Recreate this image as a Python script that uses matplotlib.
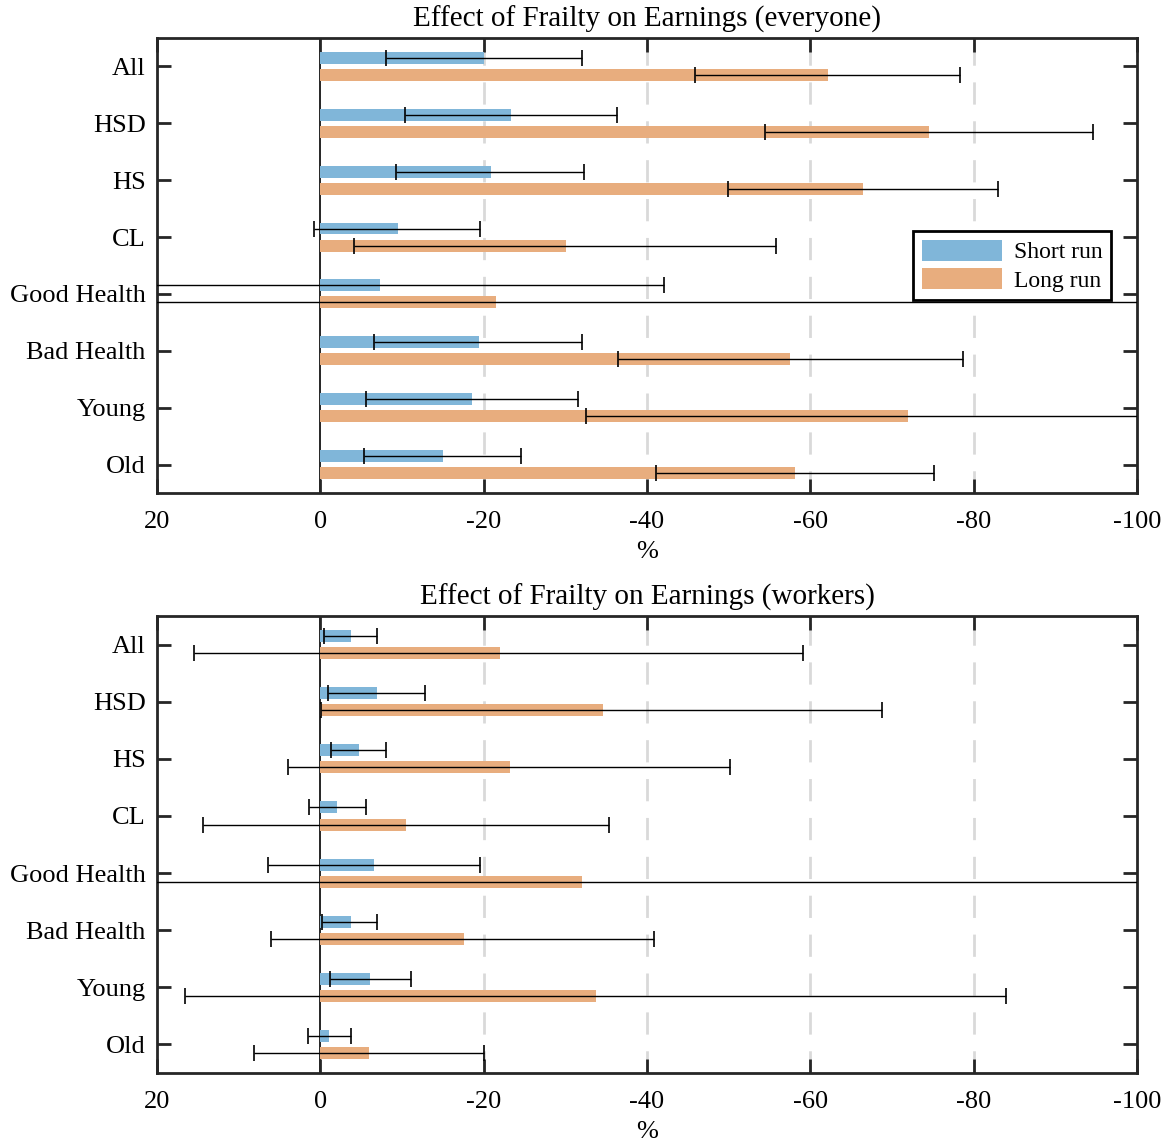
import matplotlib
matplotlib.use("Agg")
import matplotlib.pyplot as plt
import numpy as np

plt.rcParams['font.family'] = ['Liberation Serif', 'DejaVu Serif']
plt.rcParams['axes.unicode_minus'] = False

categories = ['All', 'HSD', 'HS', 'CL', 'Good Health', 'Bad Health', 'Young', 'Old']

# everyone: point estimates and confidence bounds (%)
short_all = [-20.0, -23.4, -20.9, -9.5, -7.3, -19.4, -18.6, -15.0]
short_all_lo = [-8.0, -10.4, -9.3, 0.8, 30.0, -6.6, -5.6, -5.4]
short_all_hi = [-32.0, -36.3, -32.3, -19.6, -42.1, -32.1, -31.6, -24.6]
long_all = [-62.2, -74.5, -66.5, -30.1, -21.5, -57.5, -71.9, -58.1]
long_all_lo = [-45.9, -54.5, -49.9, -4.1, 40.0, -36.5, -32.5, -41.1]
long_all_hi = [-78.3, -94.6, -83.0, -55.8, -130.0, -78.7, -110.0, -75.1]

# workers
short_wrk = [-3.7, -6.9, -4.7, -2.1, -6.6, -3.7, -6.1, -1.1]
short_wrk_lo = [-0.4, -1.0, -1.3, 1.4, 6.4, -0.2, -1.2, 1.5]
short_wrk_hi = [-6.9, -12.8, -8.0, -5.6, -19.5, -7.0, -11.1, -3.8]
long_wrk = [-22.0, -34.6, -23.2, -10.5, -32.1, -17.6, -33.8, -6.0]
long_wrk_lo = [15.5, -0.1, 3.9, 14.4, 40.0, 6.0, 16.6, 8.1]
long_wrk_hi = [-59.1, -68.8, -50.2, -35.4, -130.0, -40.9, -84.0, -20.1]

xticks = [20, 0, -20, -40, -60, -80, -100]
blue = '#80b6d9'
orange = '#e8ad7e'
dark = '#262626'


def xerr(vals, lo, hi):
    v = np.array(vals)
    a = np.minimum(lo, hi)
    b = np.maximum(lo, hi)
    return [v - a, b - v]


def panel(ax, title, s, s_lo, s_hi, l, l_lo, l_hi, legend=False):
    y = np.arange(len(categories))
    off = 0.15
    h = 0.21
    for xv in [-20, -40, -60, -80]:
        ax.axvline(xv, color='#d9d9d9', lw=2, ls=(0, (8, 6)), zorder=0)
    ax.axvline(0, color='black', lw=1.2, zorder=1)
    ax.barh(y - off, s, height=h, color=blue, label='Short run', zorder=2)
    ax.barh(y + off, l, height=h, color=orange, label='Long run', zorder=2)
    ax.errorbar(s, y - off, xerr=xerr(s, s_lo, s_hi), fmt='none', ecolor='black',
                elinewidth=1, capsize=6, capthick=1.2, zorder=3)
    ax.errorbar(l, y + off, xerr=xerr(l, l_lo, l_hi), fmt='none', ecolor='black',
                elinewidth=1, capsize=6, capthick=1.2, zorder=3)
    ax.set_xlim(20, -100)
    ax.set_ylim(7.5, -0.5)
    ax.set_yticks(y)
    ax.set_yticklabels(categories)
    ax.set_xticks(xticks)
    ax.set_xticklabels([str(t) for t in xticks])
    ax.set_xlabel('%', fontsize=19, labelpad=6)
    ax.set_title(title, fontsize=21, pad=8)
    ax.tick_params(direction='in', length=10, width=2, color=dark, labelsize=19,
                   top=True, right=True, pad=8)
    ax.tick_params(axis='x', pad=13)
    for sp in ax.spines.values():
        sp.set_linewidth(2)
        sp.set_color(dark)
    if legend:
        leg = ax.legend(loc='upper right', bbox_to_anchor=(0.973, 0.575), fontsize=17,
                        fancybox=False, framealpha=1, edgecolor='black',
                        handlelength=3.4, handleheight=1.0, borderpad=0.35,
                        labelspacing=0.2, handletextpad=0.5, borderaxespad=0)
        leg.get_frame().set_linewidth(2)


fig = plt.figure(figsize=(11.67, 11.47), dpi=100)
ax1 = fig.add_axes([0.1345, 0.5702, 0.8398, 0.3967])
ax2 = fig.add_axes([0.1345, 0.0645, 0.8398, 0.3984])

panel(ax1, 'Effect of Frailty on Earnings (everyone)', short_all, short_all_lo, short_all_hi,
      long_all, long_all_lo, long_all_hi, legend=True)
panel(ax2, 'Effect of Frailty on Earnings (workers)', short_wrk, short_wrk_lo, short_wrk_hi,
      long_wrk, long_wrk_lo, long_wrk_hi)

fig.savefig('out.png', dpi=100)
